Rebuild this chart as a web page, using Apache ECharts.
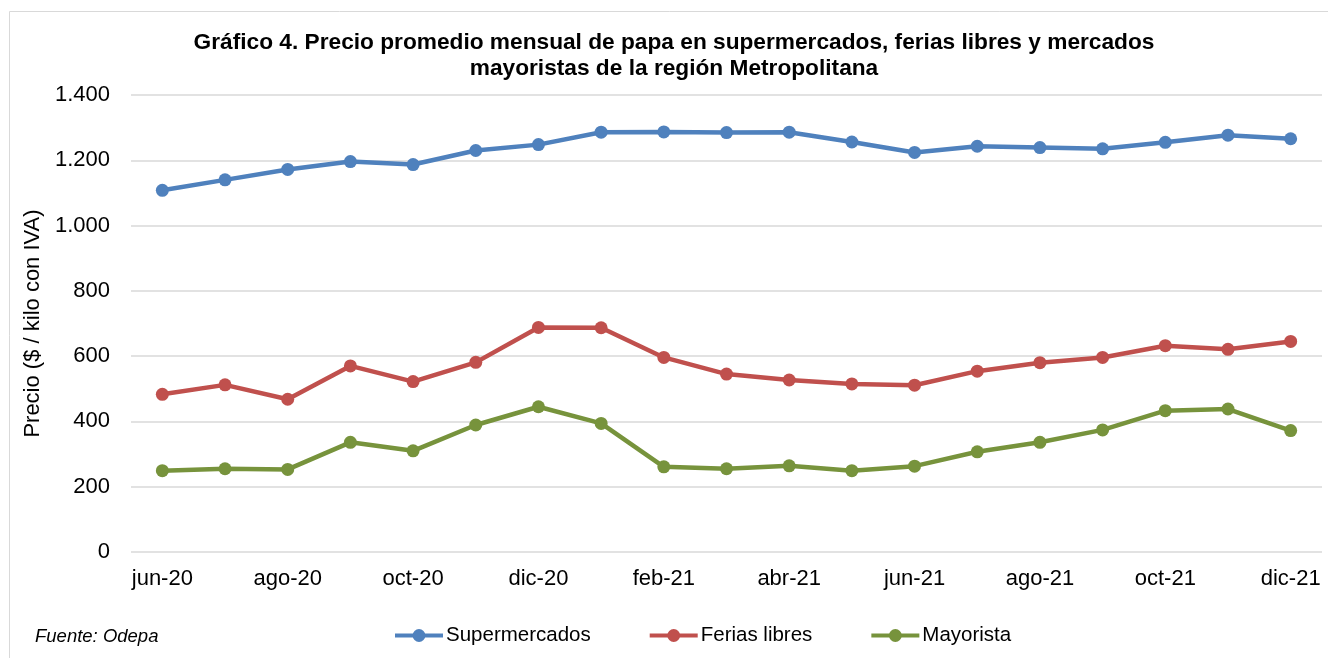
<!DOCTYPE html>
<html>
<head>
<meta charset="utf-8">
<script src="https://cdn.jsdelivr.net/npm/echarts@6/dist/echarts.min.js"></script>
<style>
html,body{margin:0;padding:0;background:#fff;}
#c{width:1328px;height:658px;}
</style>
</head>
<body>
<div id="c"></div>
<script>
const months = ['jun-20','jul-20','ago-20','sep-20','oct-20','nov-20','dic-20','ene-21','feb-21','mar-21','abr-21','may-21','jun-21','jul-21','ago-21','sep-21','oct-21','nov-21','dic-21'];
const supermercados = [1108,1140,1172,1196,1187,1230,1248,1286,1287,1285,1286,1256,1224,1243,1239,1235,1255,1277,1266];
const feriasLibres = [483,512,468,570,522,581,688,687,596,545,527,515,511,554,580,596,632,621,645];
const mayorista = [249,255,253,336,310,389,445,394,261,255,264,249,263,307,336,374,433,438,372];
const seriesNames = ['Supermercados','Ferias libres','Mayorista'];
const colors = ['#4F81BD','#C0504D','#77933C'];
const titleLines = ['Gráfico 4. Precio promedio mensual de papa en supermercados, ferias libres y mercados','mayoristas de la región Metropolitana'];
const yAxisName = 'Precio ($ / kilo con IVA)';
const sourceNote = 'Fuente: Odepa';

const FONT = '"Liberation Sans", Arial, sans-serif';
const chart = echarts.init(document.getElementById('c'));
const dataSets = [supermercados, feriasLibres, mayorista];

chart.setOption({
  animation: false,
  textStyle: {fontFamily: FONT},
  graphic: [
    {type:'rect', shape:{x:9.5,y:11.5,width:1340,height:680}, style:{fill:null, stroke:'#d9d9d9', lineWidth:1}, z:-10},
    {type:'text', x:674, y:43, style:{text:titleLines[0], font:'bold 22.7px ' + FONT, fill:'#000', textAlign:'center', textVerticalAlign:'middle'}},
    {type:'text', x:674, y:69, style:{text:titleLines[1], font:'bold 22.7px ' + FONT, fill:'#000', textAlign:'center', textVerticalAlign:'middle'}},
    {type:'text', x:35, y:637, style:{text:sourceNote, font:'italic 18.5px ' + FONT, fill:'#000', textAlign:'left', textVerticalAlign:'middle'}}
  ],
  grid: {left:131, right:6, top:95, bottom:106},
  legend: {
    left: 393, top: 625, padding: 0,
    itemWidth: 48, itemHeight: 16, itemGap: 57,
    lineStyle: {width: 4},
    textStyle: {fontSize: 20.5, color:'#000', fontFamily: FONT, padding:[0,0,0,-2]},
    data: seriesNames
  },
  xAxis: {
    type:'category', data: months, boundaryGap: true,
    axisLine:{show:false}, axisTick:{show:false},
    axisLabel:{interval:1, fontSize:22, color:'#000', margin:16, fontFamily: FONT}
  },
  yAxis: {
    type:'value', min:0, max:1400, interval:200,
    name: yAxisName, nameLocation:'middle', nameGap:80, nameRotate:90,
    nameTextStyle:{fontSize:22, color:'#000', fontFamily: FONT},
    axisLine:{show:false}, axisTick:{show:false},
    axisLabel:{fontSize:22, color:'#000', margin:21, fontFamily: FONT,
      formatter: v => String(v).replace(/\B(?=(\d{3})+(?!\d))/g, '.')},
    splitLine:{lineStyle:{color:'#d9d9d9', width:1.5}}
  },
  series: seriesNames.map((n,i) => ({
    name: n, type:'line', data: dataSets[i],
    symbol:'circle', symbolSize:13,
    lineStyle:{width:4.5, color:colors[i]},
    itemStyle:{color:colors[i]}
  }))
});
</script>
</body>
</html>
